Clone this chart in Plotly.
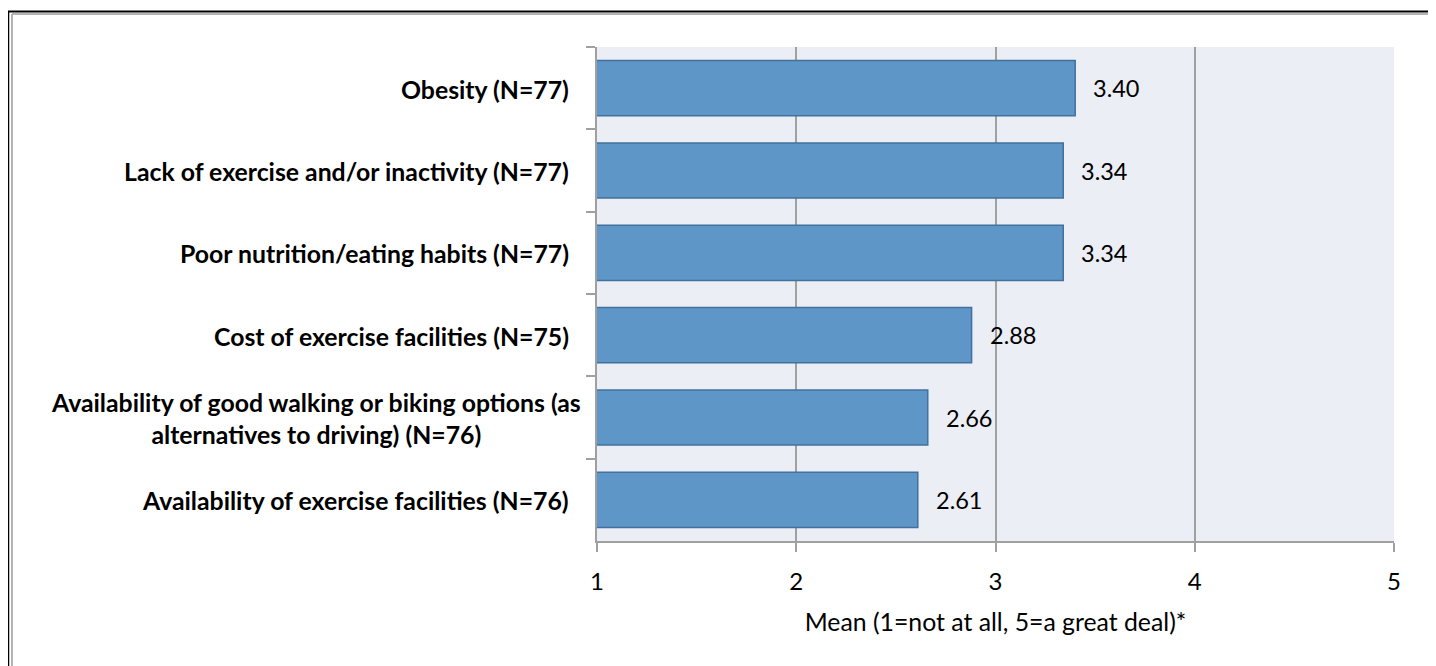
import plotly.graph_objects as go

categories = [
    "Obesity (N=77)",
    "Lack of exercise and/or inactivity (N=77)",
    "Poor nutrition/eating habits (N=77)",
    "Cost of exercise facilities (N=75)",
    "Availability of good walking or biking options (as<br>alternatives to driving) (N=76)",
    "Availability of exercise facilities (N=76)",
]
means = [3.40, 3.34, 3.34, 2.88, 2.66, 2.61]
value_labels = ["3.40", "3.34", "3.34", "2.88", "2.66", "2.61"]
x_ticks = [1, 2, 3, 4, 5]
x_title = "Mean (1=not at all, 5=a great deal)*"

OFF = 8  # page body margin
W, H = 1436 - OFF, 666 - OFF
L, R, T, B = 597 - OFF, 1394 - OFF, 47 - OFF, 541 - OFF
FONT = "Lato"

fig = go.Figure()
fig.add_trace(go.Bar(
    x=means, y=categories, orientation="h", width=0.67,
    marker=dict(color="#5F96C8", line=dict(color="#41719C", width=1.5)),
    hoverinfo="skip",
))

annotations = []
for cat, v, lab in zip(categories, means, value_labels):
    annotations.append(dict(x=v, y=cat, xref="x", yref="y", text=lab, showarrow=False,
                            xanchor="left", xshift=16, font=dict(family=FONT, size=23.5, color="black")))
    multi = "<br>" in cat
    annotations.append(dict(x=0, y=cat, xref="paper", yref="y", text="<b>" + cat + "</b>",
                            showarrow=False, xanchor="right", align="center",
                            xshift=-14 if multi else -26, yshift=-1,
                            font=dict(family=FONT, size=24.8, color="black")))

def px_x(p):
    return (p - OFF - L) / (R - L)

def px_y(p):
    return (B - (p - OFF)) / (B - T)

shapes = [
    dict(type="line", xref="paper", yref="paper", x0=px_x(8), x1=px_x(8), y0=px_y(11), y1=px_y(700), line=dict(color="black", width=2.5)),
    dict(type="line", xref="paper", yref="paper", x0=px_x(7), x1=px_x(1440), y0=px_y(11.5), y1=px_y(11.5), line=dict(color="black", width=2)),
    dict(type="line", xref="paper", yref="paper", x0=px_x(12), x1=px_x(12), y0=px_y(14), y1=px_y(700), line=dict(color="#B4B4B4", width=2)),
    dict(type="line", xref="paper", yref="paper", x0=px_x(12), x1=px_x(1432.5), y0=px_y(14), y1=px_y(14), line=dict(color="#B4B4B4", width=2)),
    dict(type="line", xref="paper", yref="paper", x0=px_x(1432.5), x1=px_x(1432.5), y0=px_y(14), y1=px_y(700), line=dict(color="#A0A0A0", width=2)),
]

fig.update_layout(
    width=W, height=H,
    margin=dict(l=L, r=W - R, t=T, b=H - B),
    paper_bgcolor="white", plot_bgcolor="#ECEEF6",
    showlegend=False, bargap=0.33,
    annotations=annotations, shapes=shapes,
    font=dict(family=FONT, size=24, color="black"),
    xaxis=dict(range=[1, 5], tickvals=x_ticks, showgrid=True, gridcolor="#A0A0A0", gridwidth=2,
               showline=True, linecolor="#A0A0A0", linewidth=2, ticks="outside", ticklen=9,
               tickcolor="#A0A0A0", tickwidth=2, zeroline=False, ticklabelstandoff=9,
               tickfont=dict(family=FONT, size=24, color="black"),
               title=dict(text=x_title, standoff=20, font=dict(family=FONT, size=24.8, color="black"))),
    yaxis=dict(autorange="reversed", showticklabels=False, showline=True, linecolor="#A0A0A0",
               linewidth=2, ticks="outside", ticklen=9, tickcolor="#A0A0A0", tickwidth=2,
               tickson="boundaries", showgrid=False),
)

fig.write_html("out.html")
